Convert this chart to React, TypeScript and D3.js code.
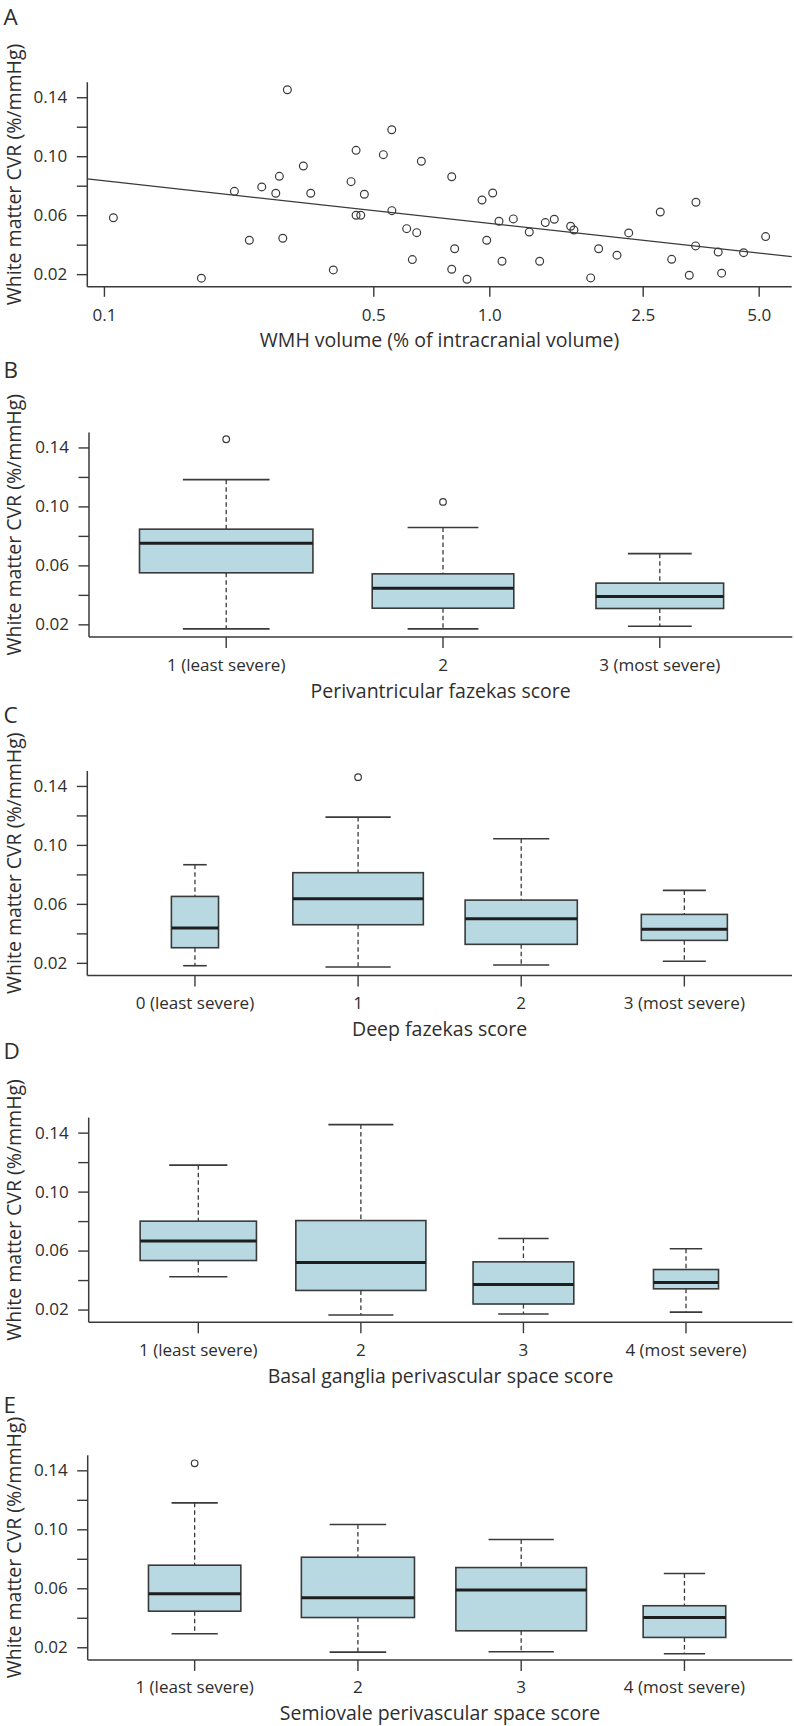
import React from 'react';
import * as d3 from 'd3';

// ---------- Panel A: scatter ----------
const wmhVolume = [
  0.1055, 0.1785, 0.2174, 0.2377, 0.256, 0.2784, 0.2844, 0.2903, 0.2983, 0.3282,
  0.343, 0.3926, 0.4365, 0.4498, 0.4498, 0.4625, 0.4726, 0.5294, 0.5566, 0.557,
  0.6643, 0.6086, 0.6461, 0.6295, 0.7965, 0.8106, 0.7965, 0.8726, 0.9544, 1.0174,
  0.9817, 1.0565, 1.0757, 1.151, 1.266, 1.347, 1.393, 1.47, 1.621, 1.653,
  1.827, 1.916, 2.138, 2.293, 2.769, 2.964, 3.293, 3.427, 3.42, 3.914,
  3.995, 4.556, 5.196,
];
const wmCvr = [
  0.0586, 0.0176, 0.0765, 0.0433, 0.0795, 0.0752, 0.0867, 0.0447, 0.1454, 0.0937,
  0.0752, 0.0232, 0.0831, 0.1043, 0.0603, 0.0603, 0.0745, 0.1014, 0.1183, 0.0634,
  0.0969, 0.0512, 0.0485, 0.0302, 0.0864, 0.0376, 0.0237, 0.0169, 0.0706, 0.0754,
  0.0433, 0.0562, 0.0291, 0.0578, 0.0489, 0.0291, 0.0553, 0.0576, 0.0528, 0.0503,
  0.0178, 0.0376, 0.0332, 0.0483, 0.0625, 0.0304, 0.0196, 0.0691, 0.0395, 0.0354,
  0.021, 0.0349, 0.0458,
];
const fitIntercept = 0.0548; // CVR at WMH = 1%
const fitSlope = -0.02882; // per log10 unit of WMH
const xTicksA = [0.1, 0.5, 1.0, 2.5, 5.0];
const xTickLabelsA = ['0.1', '0.5', '1.0', '2.5', '5.0'];

const yTicks = [0.02, 0.04, 0.06, 0.08, 0.1, 0.12, 0.14];
const yTickLabels = ['0.02', '', '0.06', '', '0.10', '', '0.14'];

// ---------- Panel B ----------
const periCats = ['1 (least severe)', '2', '3 (most severe)'];
const periN = [24, 16, 13];
const periLow = [0.0173, 0.0173, 0.0191];
const periQ1 = [0.0553, 0.0313, 0.0311];
const periMed = [0.0754, 0.0449, 0.0392];
const periQ3 = [0.0849, 0.0546, 0.0483];
const periHigh = [0.1185, 0.086, 0.0683];
const periOut = [[0.1459], [0.1034], []];

// ---------- Panel C ----------
const deepCats = ['0 (least severe)', '1', '2', '3 (most severe)'];
const deepN = [3, 23, 17, 10];
const deepLow = [0.0184, 0.0175, 0.0189, 0.0214];
const deepQ1 = [0.0306, 0.0462, 0.0329, 0.0356];
const deepMed = [0.0439, 0.0639, 0.0503, 0.0431];
const deepQ3 = [0.0654, 0.0815, 0.0629, 0.0532];
const deepHigh = [0.0869, 0.1192, 0.1045, 0.0695];
const deepOut = [[], [0.1463], [], []];

// ---------- Panel D ----------
const bgCats = ['1 (least severe)', '2', '3', '4 (most severe)'];
const bgN = [16, 20, 12, 5];
const bgLow = [0.0426, 0.0166, 0.0173, 0.0186];
const bgQ1 = [0.0536, 0.0333, 0.0241, 0.0344];
const bgMed = [0.0668, 0.0523, 0.0374, 0.0387];
const bgQ3 = [0.0803, 0.0807, 0.0527, 0.0475];
const bgHigh = [0.1183, 0.1458, 0.0685, 0.0616];
const bgOut = [[], [], [], []];

// ---------- Panel E ----------
const csCats = ['1 (least severe)', '2', '3', '4 (most severe)'];
const csN = [10, 15, 20, 8];
const csLow = [0.0295, 0.017, 0.0173, 0.0159];
const csQ1 = [0.0448, 0.0405, 0.0315, 0.027];
const csMed = [0.0566, 0.0539, 0.0591, 0.0405];
const csQ3 = [0.076, 0.0814, 0.0744, 0.0485];
const csHigh = [0.1183, 0.1036, 0.0934, 0.0704];
const csOut = [[0.1451], [], [], []];

// ---------- styling / layout ----------
const FONT = "'Open Sans', 'Noto Sans', sans-serif";
const TEXT = '#2e2e2e';
const LINE = '#3a3a3a';
const BOX_FILL = '#b8d8e2';
const TICK_FS = 15.5;
const TICK_SX = 1.1;
const TITLE_FS = 19.5;
const LETTER_FS = 22.5;
const PLOT_H = 204.6;
const Y_TITLE = 'White matter CVR (%/mmHg)';
const Y_TITLE_X = 21;

const pad4 = (lo: number, hi: number) => {
  const d = (hi - lo) * 0.04;
  return [lo - d, hi + d];
};
const yDomain = pad4(d3.min(wmCvr)!, d3.max(wmCvr)!);

const TickText = ({ x, y, anchor, children }: any) => (
  <text
    transform={`translate(${x},${y}) scale(${TICK_SX},1)`}
    textAnchor={anchor}
    fontFamily={FONT}
    fontSize={TICK_FS}
    fill={TEXT}
  >
    {children}
  </text>
);

const Frame = ({ frameLeft, frameRight, bottom, letter, letterY, xTitle, y }: any) => {
  const top = bottom - PLOT_H;
  return (
    <g>
      <text x={3.5} y={letterY} fontFamily={FONT} fontSize={LETTER_FS} fill={TEXT}>
        {letter}
      </text>
      <line x1={frameLeft} x2={frameLeft} y1={top} y2={bottom} stroke={LINE} strokeWidth={1.5} />
      <line x1={frameLeft} x2={frameRight} y1={bottom} y2={bottom} stroke={LINE} strokeWidth={1.5} />
      {yTicks.map((t, i) => (
        <g key={i}>
          <line x1={frameLeft - 10.5} x2={frameLeft} y1={y(t)} y2={y(t)} stroke={LINE} strokeWidth={1.4} />
          {yTickLabels[i] && (
            <TickText x={frameLeft - 20} y={y(t) + 5.4} anchor="end">
              {yTickLabels[i]}
            </TickText>
          )}
        </g>
      ))}
      <text
        transform={`translate(${Y_TITLE_X},${(top + bottom) / 2 - 10}) rotate(-90)`}
        textAnchor="middle"
        fontFamily={FONT}
        fontSize={TITLE_FS}
        fill={TEXT}
      >
        {Y_TITLE}
      </text>
      <text
        x={(frameLeft + frameRight) / 2}
        y={bottom + 60.5}
        textAnchor="middle"
        fontFamily={FONT}
        fontSize={TITLE_FS}
        fill={TEXT}
      >
        {xTitle}
      </text>
    </g>
  );
};

const ScatterPanel = ({ layout }: any) => {
  const { frameLeft, frameRight, bottom } = layout;
  const y = d3.scaleLinear().domain(yDomain).range([bottom, bottom - PLOT_H]);
  const logExt = pad4(Math.log10(d3.min(wmhVolume)!), Math.log10(d3.max(wmhVolume)!));
  const x = d3
    .scaleLog()
    .domain([Math.pow(10, logExt[0]), Math.pow(10, logExt[1])])
    .range([frameLeft, frameRight]);
  const fitPts = x.domain().map((v) => [x(v), y(fitIntercept + fitSlope * Math.log10(v))] as [number, number]);
  const line = d3.line();
  return (
    <g>
      <Frame {...layout} y={y} />
      {xTicksA.map((t, i) => (
        <g key={i}>
          <line x1={x(t)} x2={x(t)} y1={bottom} y2={bottom + 10} stroke={LINE} strokeWidth={1.4} />
          <TickText x={x(t)} y={bottom + 34.3} anchor="middle">
            {xTickLabelsA[i]}
          </TickText>
        </g>
      ))}
      <path d={line(fitPts)!} stroke={LINE} strokeWidth={1.3} fill="none" />
      {wmhVolume.map((v, i) => (
        <circle key={i} cx={x(v)} cy={y(wmCvr[i])} r={3.9} fill="none" stroke={LINE} strokeWidth={1.2} />
      ))}
    </g>
  );
};

const BoxPanel = ({ layout, cats, n, lo, q1, med, q3, hi, out }: any) => {
  const { bottom, scaleLeft, scaleRight } = layout;
  const k = cats.length;
  const y = d3.scaleLinear().domain(yDomain).range([bottom, bottom - PLOT_H]);
  const x = d3
    .scaleLinear()
    .domain(pad4(0.5, k + 0.5))
    .range([scaleLeft, scaleRight]);
  const maxSqrt = d3.max(n as number[], (v) => Math.sqrt(v))!;
  return (
    <g>
      <Frame {...layout} y={y} />
      {cats.map((c: string, i: number) => {
        const cx = x(i + 1);
        const half = ((x(1.8) - x(1)) * Math.sqrt(n[i])) / maxSqrt / 2;
        const cap = half / 2;
        return (
          <g key={i}>
            <line x1={cx} x2={cx} y1={bottom} y2={bottom + 11} stroke={LINE} strokeWidth={1.4} />
            <TickText x={cx} y={bottom + 33.5} anchor="middle">
              {c}
            </TickText>
            <line x1={cx} x2={cx} y1={y(hi[i])} y2={y(q3[i])} stroke={LINE} strokeWidth={1.3} strokeDasharray="4.5,3" />
            <line x1={cx} x2={cx} y1={y(q1[i])} y2={y(lo[i])} stroke={LINE} strokeWidth={1.3} strokeDasharray="4.5,3" />
            <line x1={cx - cap} x2={cx + cap} y1={y(hi[i])} y2={y(hi[i])} stroke={LINE} strokeWidth={1.6} />
            <line x1={cx - cap} x2={cx + cap} y1={y(lo[i])} y2={y(lo[i])} stroke={LINE} strokeWidth={1.6} />
            <rect
              x={cx - half}
              y={y(q3[i])}
              width={half * 2}
              height={y(q1[i]) - y(q3[i])}
              fill={BOX_FILL}
              stroke={LINE}
              strokeWidth={1.6}
            />
            <line x1={cx - half} x2={cx + half} y1={y(med[i])} y2={y(med[i])} stroke="#1e1e1e" strokeWidth={3} />
            {out[i].map((o: number, j: number) => (
              <circle key={j} cx={cx} cy={y(o)} r={3.3} fill="none" stroke={LINE} strokeWidth={1.2} />
            ))}
          </g>
        );
      })}
    </g>
  );
};

const layoutA = { frameLeft: 87.3, frameRight: 791.7, bottom: 286.8, letter: 'A', letterY: 24.5, xTitle: 'WMH volume (% of intracranial volume)' };
const layoutB = { frameLeft: 89, frameRight: 792.3, scaleLeft: 91.8, scaleRight: 794.2, bottom: 637, letter: 'B', letterY: 378.3, xTitle: 'Perivantricular fazekas score' };
const layoutC = { frameLeft: 87.3, frameRight: 792, scaleLeft: 87.3, scaleRight: 792, bottom: 975.5, letter: 'C', letterY: 723.3, xTitle: 'Deep fazekas score' };
const layoutD = { frameLeft: 88.7, frameRight: 792.3, scaleLeft: 91, scaleRight: 793.3, bottom: 1322.2, letter: 'D', letterY: 1059.3, xTitle: 'Basal ganglia perivascular space score' };
const layoutE = { frameLeft: 87.7, frameRight: 792.2, scaleLeft: 86.9, scaleRight: 792.2, bottom: 1659.9, letter: 'E', letterY: 1413.3, xTitle: 'Semiovale perivascular space score' };

export default function App() {
  return (
    <div style={{ position: 'absolute', left: 0, top: 0, background: '#fff' }}>
      <svg width={794} height={1726} viewBox="0 0 794 1726" style={{ display: 'block' }}>
        <rect width={794} height={1726} fill="#fff" />
        <ScatterPanel layout={layoutA} />
        <BoxPanel layout={layoutB} cats={periCats} n={periN} lo={periLow} q1={periQ1} med={periMed} q3={periQ3} hi={periHigh} out={periOut} />
        <BoxPanel layout={layoutC} cats={deepCats} n={deepN} lo={deepLow} q1={deepQ1} med={deepMed} q3={deepQ3} hi={deepHigh} out={deepOut} />
        <BoxPanel layout={layoutD} cats={bgCats} n={bgN} lo={bgLow} q1={bgQ1} med={bgMed} q3={bgQ3} hi={bgHigh} out={bgOut} />
        <BoxPanel layout={layoutE} cats={csCats} n={csN} lo={csLow} q1={csQ1} med={csMed} q3={csQ3} hi={csHigh} out={csOut} />
      </svg>
    </div>
  );
}
